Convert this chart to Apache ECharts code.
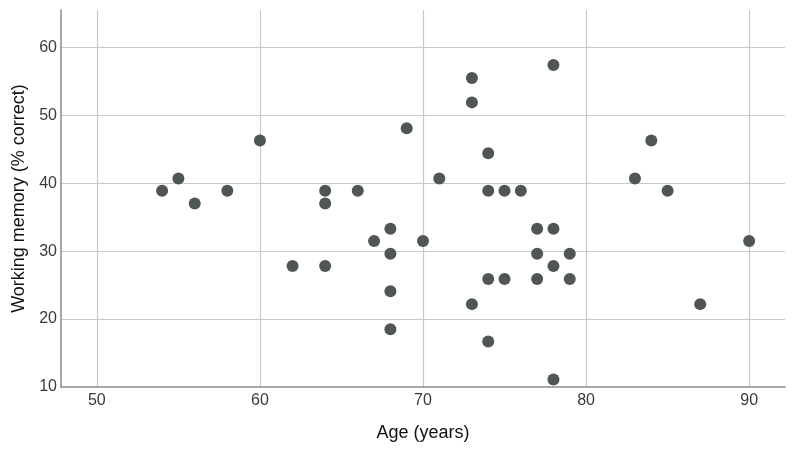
<!DOCTYPE html>
<html>
<head>
<meta charset="utf-8">
<script src="https://cdn.jsdelivr.net/npm/echarts@6/dist/echarts.min.js"></script>
<style>
  html, body { margin: 0; padding: 0; background: #fff; }
  #chart { width: 800px; height: 452px; }
</style>
</head>
<body>
<div id="chart"></div>
<script>
// age (years) and working memory (% correct), one entry per participant
const ages = [
  54, 55, 56, 58, 60, 62,
  64, 64, 64, 66, 67, 68, 68, 68, 68, 69, 70, 71,
  73, 73, 73, 74, 74, 74, 74, 75, 75, 76,
  77, 77, 77, 78, 78, 78, 78, 79, 79,
  83, 84, 85, 87, 90
]
const memory = [
  38.9, 40.7, 37.0, 38.9, 46.3, 27.8,
  38.9, 37.0, 27.8, 38.9, 31.5, 33.3, 29.6, 24.1, 18.5, 48.1, 31.5, 40.7,
  55.5, 51.9, 22.2, 44.4, 38.9, 25.9, 16.7, 38.9, 25.9, 38.9,
  33.3, 29.6, 25.9, 57.4, 33.3, 27.8, 11.1, 29.6, 25.9,
  40.7, 46.3, 38.9, 22.2, 31.5
]

const xTitle = 'Age (years)'
const yTitle = 'Working memory (% correct)'

const chart = echarts.init(document.getElementById('chart'))

// pair the two lists up for the scatter series
const points = ages.map((a, i) => [a, memory[i]])

const axisText = { color: '#3a3a3a', fontSize: 16, fontFamily: 'Liberation Sans, Arial, sans-serif' }
const nameText = { color: '#111', fontSize: 18, fontFamily: 'Liberation Sans, Arial, sans-serif' }

const option = {
  animation: false,
  backgroundColor: '#fff',
  grid: { left: 61, right: 15, top: 10, bottom: 65 },
  xAxis: {
    type: 'value',
    min: 47.8,
    max: 92.2,
    minInterval: 10,
    maxInterval: 10,
    name: xTitle,
    nameLocation: 'middle',
    nameGap: 37,
    nameTextStyle: nameText,
    axisLine: { show: true, lineStyle: { color: '#8a8a8a', width: 1.5 } },
    axisTick: { show: false },
    axisLabel: { ...axisText, margin: 6, showMinLabel: false, showMaxLabel: false },
    splitLine: { show: true, showMinLine: false, showMaxLine: false, lineStyle: { color: '#c9c9c9', width: 1.2 } }
  },
  yAxis: {
    type: 'value',
    min: 10,
    max: 65.5,
    minInterval: 10,
    maxInterval: 10,
    name: yTitle,
    nameLocation: 'middle',
    nameGap: 33,
    nameTextStyle: nameText,
    axisLine: { show: true, lineStyle: { color: '#8a8a8a', width: 1.5 } },
    axisTick: { show: false },
    axisLabel: { ...axisText, margin: 4, showMaxLabel: false },
    splitLine: { show: true, showMinLine: false, showMaxLine: false, lineStyle: { color: '#c9c9c9', width: 1.2 } }
  },
  series: [{
    type: 'scatter',
    data: points,
    symbolSize: 12,
    itemStyle: { color: '#4f5654', opacity: 1 }
  }]
}

chart.setOption(option)
</script>
</body>
</html>
